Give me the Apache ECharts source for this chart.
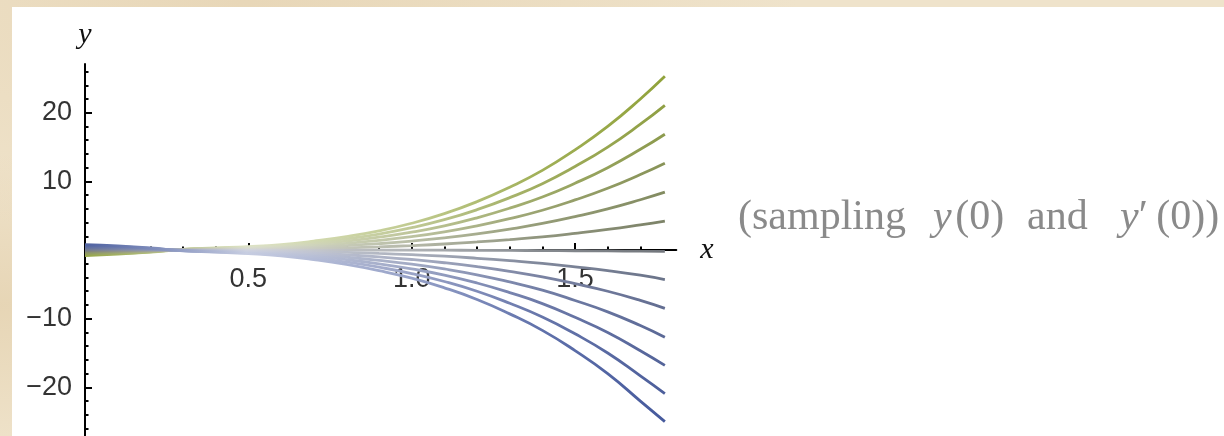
<!DOCTYPE html>
<html>
<head>
<meta charset="utf-8">
<script src="https://cdn.jsdelivr.net/npm/echarts@6/dist/echarts.min.js"></script>
<style>
  html, body { margin: 0; padding: 0; width: 1224px; height: 436px; overflow: hidden; }
  body {
    background:
      radial-gradient(ellipse at 20% 0%, rgba(226,205,168,0.55), rgba(226,205,168,0) 40%),
      radial-gradient(ellipse at 0% 70%, rgba(222,200,160,0.5), rgba(222,200,160,0) 35%),
      #efe3cb;
  }
  #paper { position: absolute; left: 12px; top: 7px; right: 0; bottom: 0; background: #ffffff; }
  #chart { position: absolute; left: 0; top: 0; width: 1224px; height: 436px; }
</style>
</head>
<body>
<div id="paper"></div>
<div id="chart"></div>
<script>
// Sample positions along x shared by every solution curve
const xValues = [0, 0.1, 0.2, 0.3, 0.4, 0.5, 0.6, 0.7, 0.8, 0.9, 1.0, 1.1, 1.2, 1.3, 1.4, 1.5, 1.6, 1.7, 1.775];

// Solution curves, from the highest at the right end to the lowest
const curveA = [-0.8, -0.6, -0.3, 0.1, 0.3, 0.5, 0.8, 1.3, 1.95, 2.8, 3.9, 5.3, 7.05, 9.15, 11.6, 14.6, 18.0, 22.0, 25.3];
const curveB = [-0.67, -0.5, -0.25, 0.08, 0.25, 0.42, 0.67, 1.08, 1.63, 2.33, 3.25, 4.42, 5.88, 7.63, 9.67, 12.17, 15.0, 18.33, 21.08];
const curveC = [-0.53, -0.4, -0.2, 0.07, 0.2, 0.33, 0.53, 0.87, 1.3, 1.87, 2.6, 3.53, 4.7, 6.1, 7.73, 9.73, 12.0, 14.67, 16.87];
const curveD = [-0.4, -0.3, -0.15, 0.05, 0.15, 0.25, 0.4, 0.65, 0.98, 1.4, 1.95, 2.65, 3.53, 4.58, 5.8, 7.3, 9.0, 11.0, 12.65];
const curveE = [-0.27, -0.2, -0.1, 0.03, 0.1, 0.17, 0.27, 0.43, 0.65, 0.93, 1.3, 1.77, 2.35, 3.05, 3.87, 4.87, 6.0, 7.33, 8.43];
const curveF = [-0.13, -0.1, -0.05, 0.02, 0.05, 0.08, 0.13, 0.22, 0.33, 0.47, 0.65, 0.88, 1.18, 1.53, 1.93, 2.43, 3.0, 3.67, 4.22];
const curveG = [0, 0, 0, 0, 0, 0, 0, 0, 0, 0, 0, -0.02, -0.04, -0.06, -0.08, -0.1, -0.13, -0.17, -0.2];
const curveH = [0.13, 0.1, 0.05, -0.02, -0.05, -0.08, -0.13, -0.22, -0.33, -0.5, -0.68, -0.9, -1.2, -1.55, -1.95, -2.45, -3.0, -3.67, -4.3];
const curveI = [0.27, 0.2, 0.1, -0.03, -0.1, -0.17, -0.27, -0.45, -0.7, -1.0, -1.38, -1.85, -2.42, -3.1, -3.9, -4.9, -6.0, -7.33, -8.5];
const curveJ = [0.4, 0.3, 0.15, -0.05, -0.15, -0.25, -0.42, -0.7, -1.05, -1.5, -2.05, -2.75, -3.6, -4.65, -5.85, -7.35, -9.0, -11.0, -12.7];
const curveK = [0.53, 0.4, 0.2, -0.07, -0.2, -0.35, -0.57, -0.93, -1.4, -2.0, -2.75, -3.65, -4.8, -6.2, -7.8, -9.8, -12.0, -14.67, -16.8];
const curveL = [0.67, 0.5, 0.25, -0.08, -0.25, -0.44, -0.72, -1.16, -1.75, -2.5, -3.42, -4.58, -6.0, -7.75, -9.75, -12.2, -15.0, -18.33, -20.9];
const curveM = [0.8, 0.6, 0.3, -0.1, -0.3, -0.53, -0.86, -1.4, -2.1, -3.0, -4.1, -5.5, -7.2, -9.3, -11.7, -14.65, -18.0, -22.0, -25.0];

const curves = [curveA, curveB, curveC, curveD, curveE, curveF, curveG, curveH, curveI, curveJ, curveK, curveL, curveM];

// Tick positions and labels
const xMajorTicks = [0.5, 1.0, 1.5];
const xMinorTicks = [0.1, 0.2, 0.3, 0.4, 0.6, 0.7, 0.8, 0.9, 1.1, 1.2, 1.3, 1.4, 1.6, 1.7];
const yMajorTicks = [-20, -10, 10, 20];
const yMinorTicks = [-26, -24, -22, -18, -16, -14, -12, -8, -6, -4, -2, 2, 4, 6, 8, 12, 14, 16, 18, 22, 24, 26];

// Plot ranges
const xMin = 0, xMax = 1.81;
const yMin = -27.5, yMax = 27.1;

// Line colours at the right-hand end, olive through grey to blue
const endColors = ['#90a23a', '#8f9f43', '#8c9a4d', '#889357', '#828b60', '#7c8267', '#72767c',
                   '#6a7389', '#626d91', '#5a6896', '#536399', '#4c5e9b', '#45599c'];

function mixWhite(hex, t) {
  const n = parseInt(hex.slice(1), 16);
  const r = (n >> 16) & 255, g = (n >> 8) & 255, b = n & 255;
  const m = c => Math.round(c + (255 - c) * t);
  return 'rgb(' + m(r) + ',' + m(g) + ',' + m(b) + ')';
}

// Each line is strongest at its two ends and washes out where the family bunches together
function lineGradient(hex) {
  return new echarts.graphic.LinearGradient(0, 0, 1, 0, [
    { offset: 0.00, color: mixWhite(hex, 0.05) },
    { offset: 0.12, color: mixWhite(hex, 0.3) },
    { offset: 0.28, color: mixWhite(hex, 0.7) },
    { offset: 0.55, color: mixWhite(hex, 0.45) },
    { offset: 0.78, color: mixWhite(hex, 0.15) },
    { offset: 1.00, color: hex }
  ]);
}

const chart = echarts.init(document.getElementById('chart'), null, { renderer: 'canvas' });

const tickFont = { fontFamily: '"Liberation Sans", Arial, sans-serif', fontSize: 27, color: '#333333' };
const nameFont = { fontFamily: '"Liberation Serif", "Times New Roman", serif', fontStyle: 'italic', fontSize: 30, color: '#111111' };
const noteFamily = '"Liberation Serif", "Times New Roman", serif';
const noteSize = 42;
const noteColor = '#8a8a8a';
const noteRich = {
  i: { fontFamily: noteFamily, fontSize: noteSize, fontStyle: 'italic', fill: noteColor },
  r: { fontFamily: noteFamily, fontSize: noteSize, fill: noteColor }
};

function notePiece(x, text) {
  return { type: 'text', x: x, y: 218, silent: true, z: 5,
    style: { text: text, rich: noteRich, fill: noteColor, align: 'left', verticalAlign: 'middle' } };
}

const plotLeft = 85, plotTop = 64, plotWidth = 591.3;
const pxPerY = 6.865;

const option = {
  animation: false,
  grid: [
    // full plotting area, carries the curves and the vertical axis
    { left: plotLeft, top: plotTop, width: plotWidth, height: (yMax - yMin) * pxPerY,
      containLabel: false, outerBoundsMode: 'none' },
    // upper half only: its bottom edge sits at y = 0 and carries the horizontal axis
    { left: plotLeft, top: plotTop, width: plotWidth, height: yMax * pxPerY,
      containLabel: false, outerBoundsMode: 'none' }
  ],
  xAxis: [
    { gridIndex: 0, type: 'value', min: xMin, max: xMax, show: false },
    {
      gridIndex: 1, type: 'value', min: xMin, max: xMax, position: 'bottom',
      name: 'x', nameLocation: 'end', nameGap: 24, nameTextStyle: nameFont,
      axisLine: { show: true, onZero: false, lineStyle: { color: '#000', width: 2 } },
      axisTick: { show: true, inside: true, length: 7, customValues: xMajorTicks, lineStyle: { color: '#000', width: 2 } },
      axisLabel: Object.assign({ show: true, margin: 16, customValues: xMajorTicks,
        formatter: v => v.toFixed(1) }, tickFont),
      splitLine: { show: false }
    },
    {
      gridIndex: 1, type: 'value', min: xMin, max: xMax, position: 'bottom',
      axisLine: { show: false, onZero: false },
      axisTick: { show: true, inside: true, length: 3.5, customValues: xMinorTicks, lineStyle: { color: '#000', width: 2 } },
      axisLabel: { show: false },
      splitLine: { show: false }
    }
  ],
  yAxis: [
    {
      gridIndex: 0, type: 'value', min: yMin, max: yMax, position: 'left',
      name: 'y', nameLocation: 'end', nameGap: 14, nameTextStyle: nameFont,
      axisLine: { show: true, onZero: false, lineStyle: { color: '#000', width: 2 } },
      axisTick: { show: true, inside: true, length: 7, customValues: yMajorTicks, lineStyle: { color: '#000', width: 2 } },
      axisLabel: Object.assign({ show: true, margin: 13, customValues: yMajorTicks,
        formatter: v => String(v).replace('-', '\u2212') }, tickFont),
      splitLine: { show: false }
    },
    {
      gridIndex: 0, type: 'value', min: yMin, max: yMax, position: 'left',
      axisLine: { show: false, onZero: false },
      axisTick: { show: true, inside: true, length: 3.5, customValues: yMinorTicks, lineStyle: { color: '#000', width: 2 } },
      axisLabel: { show: false },
      splitLine: { show: false }
    },
    { gridIndex: 1, type: 'value', min: 0, max: yMax, show: false }
  ],
  series: curves.map((ys, i) => ({
    type: 'line',
    xAxisIndex: 0,
    yAxisIndex: 0,
    smooth: true,
    showSymbol: false,
    symbol: 'none',
    z: 3,
    lineStyle: { width: 2.8, color: lineGradient(endColors[i]), cap: 'butt' },
    data: xValues.map((x, j) => [x, ys[j]])
  })),
  graphic: [
    notePiece(738, '{r|(sampling}'),
    notePiece(933, '{i|y}{r|\u200a(0)}'),
    notePiece(1027, '{r|and}'),
    notePiece(1120, '{i|y}{r|\u2032\u2009(0))}')
  ]
};

chart.setOption(option);
</script>
</body>
</html>
